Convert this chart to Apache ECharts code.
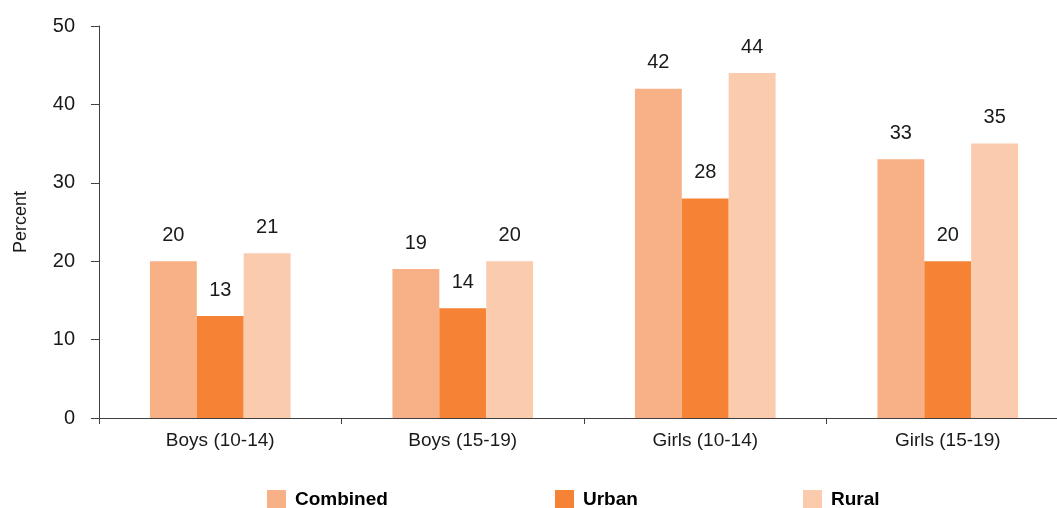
<!DOCTYPE html>
<html>
<head>
<meta charset="utf-8">
<script src="https://cdn.jsdelivr.net/npm/echarts@6/dist/echarts.min.js"></script>
<style>
  html, body { margin: 0; padding: 0; background: #fff; overflow: hidden; width: 1057px; height: 508px; }
  /* the plot runs slightly past the right edge of the page, so the canvas is wider than the view */
  #chart { width: 1069px; height: 508px; }
</style>
</head>
<body>
<div id="chart"></div>
<script>
// Age/sex groups on the category axis
const categories = ['Boys (10-14)', 'Boys (15-19)', 'Girls (10-14)', 'Girls (15-19)'];
// Percent values by place of residence
const combined = [20, 19, 42, 33];
const urban = [13, 14, 28, 20];
const rural = [21, 20, 44, 35];
const yTicks = [0, 10, 20, 30, 40, 50];

const FONT = '"Liberation Sans", Arial, sans-serif';
const AXIS_COLOR = '#404040';
const TEXT_COLOR = '#1a1a1a';
const colors = { Combined: '#F8B186', Urban: '#F58235', Rural: '#FBCBAE' };

function barSeries(name, data) {
  return {
    name: name,
    type: 'bar',
    data: data,
    barGap: '0%',
    barCategoryGap: '42%',
    itemStyle: { color: colors[name] },
    label: {
      show: true,
      position: 'top',
      distance: 16,
      color: TEXT_COLOR,
      fontFamily: FONT,
      fontSize: 20
    }
  };
}

function legendAt(name, left) {
  return {
    data: [name],
    left: left,
    top: 490,
    padding: 0,
    itemWidth: 19,
    itemHeight: 19,
    itemGap: 0,
    icon: 'rect',
    textStyle: { fontFamily: FONT, fontSize: 19, fontWeight: 'bold', color: '#000', padding: [2, 0, 0, 4] },
    selectedMode: false
  };
}

const chart = echarts.init(document.getElementById('chart'), null, { renderer: 'canvas' });
chart.setOption({
  animation: false,
  backgroundColor: '#fff',
  grid: { left: 99, right: 0, top: 26, bottom: 90, containLabel: false },
  legend: [legendAt('Combined', 267), legendAt('Urban', 555), legendAt('Rural', 803)],
  xAxis: {
    type: 'category',
    data: categories,
    axisLine: { lineStyle: { color: AXIS_COLOR, width: 1 } },
    axisTick: { show: true, length: 6, alignWithLabel: false, lineStyle: { color: AXIS_COLOR } },
    axisLabel: { margin: 13, fontFamily: FONT, fontSize: 19, color: TEXT_COLOR }
  },
  yAxis: {
    type: 'value',
    min: yTicks[0],
    max: yTicks[yTicks.length - 1],
    interval: yTicks[1] - yTicks[0],
    name: 'Percent',
    nameLocation: 'middle',
    nameGap: 69,
    nameRotate: 90,
    nameTextStyle: { fontFamily: FONT, fontSize: 18, color: TEXT_COLOR },
    axisLine: { show: true, lineStyle: { color: AXIS_COLOR, width: 1 } },
    axisTick: { show: true, length: 8, inside: false, lineStyle: { color: AXIS_COLOR } },
    splitLine: { show: false },
    axisLabel: { margin: 24, fontFamily: FONT, fontSize: 20, color: TEXT_COLOR }
  },
  series: [
    barSeries('Combined', combined),
    barSeries('Urban', urban),
    barSeries('Rural', rural)
  ]
});
</script>
</body>
</html>
